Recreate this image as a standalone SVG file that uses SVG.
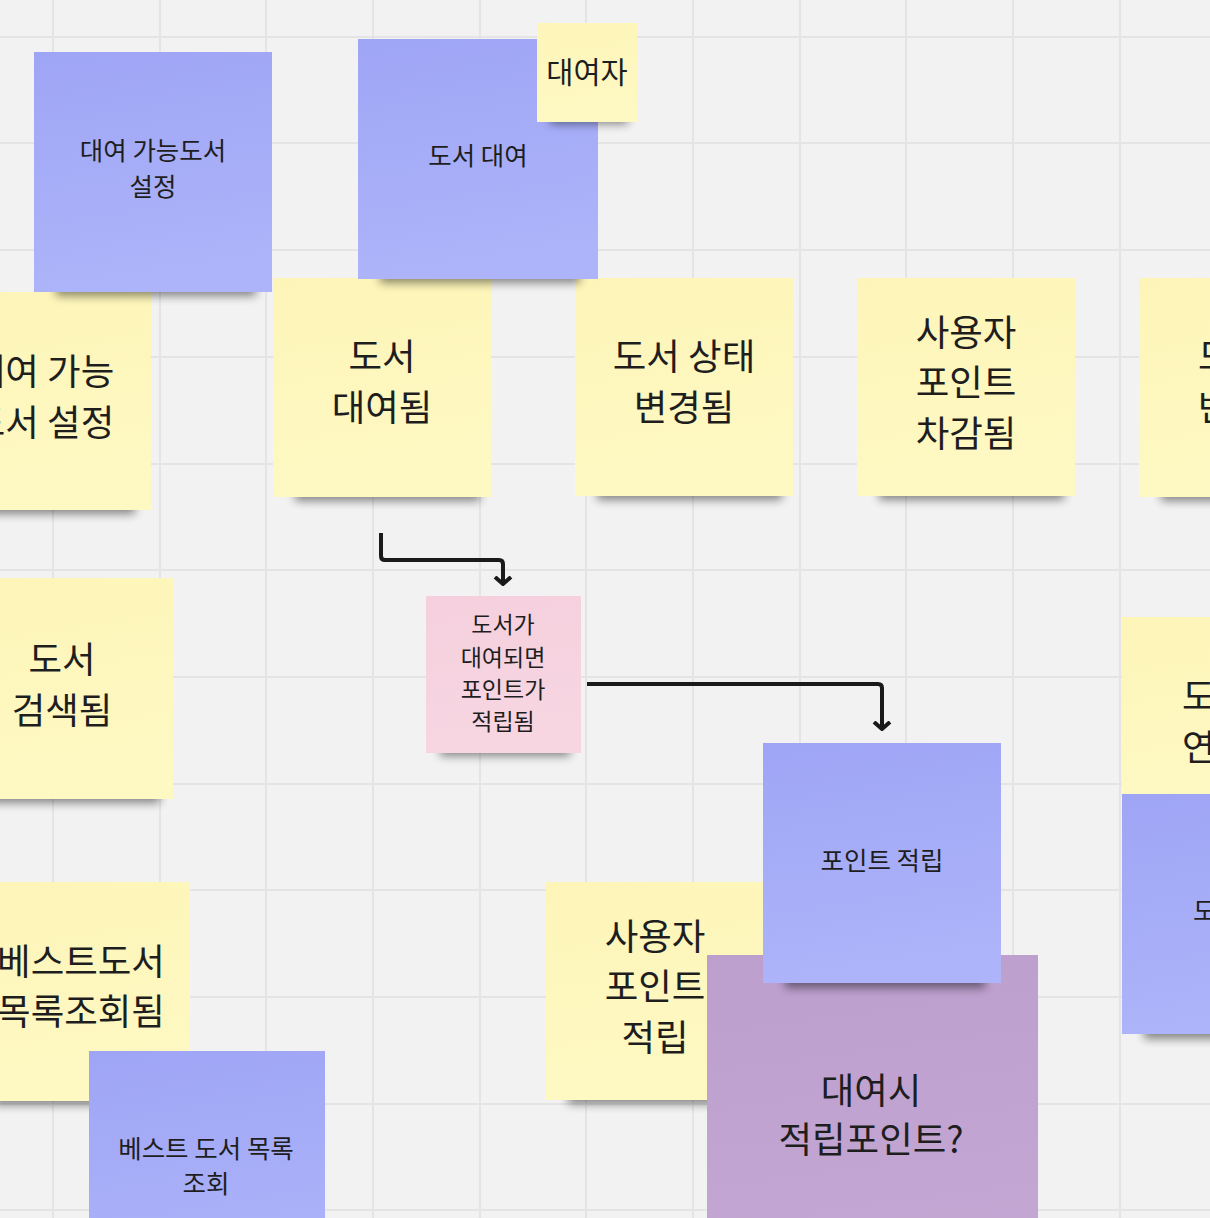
<svg xmlns="http://www.w3.org/2000/svg" width="1210" height="1218" viewBox="0 0 1210 1218">
<style>
.t{font-family:"Noto Sans CJK KR","Noto Sans",sans-serif;fill:#1e1e1e;text-anchor:middle}
.s{font-family:"Noto Sans CJK KR","Noto Sans",sans-serif;fill:#1e1e1e;text-anchor:start}
.big{font-size:36.5px}
.mid{font-size:25.5px}
.sm{font-size:23px}
.grid{stroke:#e4e4e4;stroke-width:2;fill:none}
.sh{fill:#000;opacity:0.45;filter:url(#blur)}
.conn{fill:none;stroke:#1a1a1a;stroke-width:4;stroke-linejoin:round}
</style>
<defs>
<linearGradient id="gb" x1="0" y1="0" x2="0.15" y2="1"><stop offset="0" stop-color="#9fa5f5"/><stop offset="1" stop-color="#adb4f9"/></linearGradient>
<linearGradient id="gy" x1="0" y1="0" x2="0.15" y2="1"><stop offset="0" stop-color="#fdf5b8"/><stop offset="1" stop-color="#fef8c3"/></linearGradient>
<linearGradient id="gp" x1="0" y1="0" x2="0.15" y2="1"><stop offset="0" stop-color="#f5cfdd"/><stop offset="1" stop-color="#f7d6e2"/></linearGradient>
<linearGradient id="gv" x1="0" y1="0" x2="0.15" y2="1"><stop offset="0" stop-color="#bc9fcd"/><stop offset="1" stop-color="#c4a6d3"/></linearGradient>
<filter id="blur" x="-20%" y="-100%" width="140%" height="300%"><feGaussianBlur stdDeviation="5"/></filter>
<marker id="ah" viewBox="0 0 10 20" refX="8" refY="10" markerWidth="2.5" markerHeight="5" orient="auto" markerUnits="strokeWidth">
<path d="M1,2 L8,10 L1,18" fill="none" stroke="#1a1a1a" stroke-width="4" stroke-linejoin="miter"/>
</marker>
</defs>
<rect width="1210" height="1218" fill="#f2f2f2"/>
<path class="grid" d="M53 0V1218M160 0V1218M266 0V1218M373 0V1218M480 0V1218M586 0V1218M693 0V1218M800 0V1218M906 0V1218M1013 0V1218M1120 0V1218M0 37H1210M0 143H1210M0 250H1210M0 357H1210M0 464H1210M0 570H1210M0 677H1210M0 784H1210M0 890H1210M0 997H1210M0 1104H1210M0 1210H1210"/>

<g id="n-yellow-rental-setting">
<rect class="sh" x="-45" y="496" width="180" height="18"/>
<rect x="-65" y="292" width="216" height="218" fill="url(#gy)"/>
<text class="t big" x="43" y="385">대여 가능</text>
<text class="t big" x="43" y="436">도서 설정</text>
</g>
<g id="n-book-rented">
<rect class="sh" x="295" y="483" width="185" height="18"/>
<rect x="273" y="278" width="218" height="219" fill="url(#gy)"/>
<text class="t big" x="382" y="370">도서</text>
<text class="t big" x="382" y="421">대여됨</text>
</g>
<g id="n-book-status-changed">
<rect class="sh" x="597" y="482" width="185" height="18"/>
<rect x="575" y="278" width="218" height="218" fill="url(#gy)"/>
<text class="t big" x="684" y="370">도서 상태</text>
<text class="t big" x="684" y="421">변경됨</text>
</g>
<g id="n-point-deducted">
<rect class="sh" x="879" y="482" width="185" height="18"/>
<rect x="857" y="278" width="218" height="218" fill="url(#gy)"/>
<text class="t big" x="966" y="346">사용자</text>
<text class="t big" x="966" y="396">포인트</text>
<text class="t big" x="966" y="447">차감됨</text>
</g>
<g id="n-right-yellow-top">
<rect class="sh" x="1161" y="483" width="185" height="18"/>
<rect x="1139" y="278" width="218" height="219" fill="url(#gy)"/>
<text class="s big" x="1198" y="370">도서</text>
<text class="s big" x="1198" y="421">반납됨</text>
</g>
<g id="n-cmd-rental-setting">
<rect class="sh" x="56" y="278" width="200" height="18"/>
<rect x="34" y="52" width="238" height="240" fill="url(#gb)"/>
<text class="t mid" x="153" y="160">대여 가능도서</text>
<text class="t mid" x="153" y="196">설정</text>
</g>
<g id="n-cmd-rent">
<rect class="sh" x="380" y="265" width="200" height="18"/>
<rect x="358" y="39" width="240" height="240" fill="url(#gb)"/>
<text class="t mid" x="478" y="165">도서 대여</text>
</g>
<g id="n-actor">
<rect class="sh" x="550" y="110" width="78" height="14"/>
<rect x="537" y="23" width="100" height="99" fill="url(#gy)"/>
<text class="t" style="font-size:29.5px" x="587" y="83">대여자</text>
</g>
<g id="n-policy">
<rect class="sh" x="440" y="740" width="130" height="16"/>
<rect x="426" y="596" width="155" height="157" fill="url(#gp)"/>
<text class="t sm" x="503" y="633">도서가</text>
<text class="t sm" x="503" y="666">대여되면</text>
<text class="t sm" x="503" y="698">포인트가</text>
<text class="t sm" x="503" y="730">적립됨</text>
</g>
<g id="n-book-searched">
<rect class="sh" x="-25" y="785" width="185" height="18"/>
<rect x="-47" y="578" width="220" height="221" fill="url(#gy)"/>
<text class="t big" x="62" y="673">도서</text>
<text class="t big" x="62" y="724">검색됨</text>
</g>
<g id="n-best-viewed">
<rect class="sh" x="-6" y="1087" width="185" height="18"/>
<rect x="-28" y="882" width="218" height="219" fill="url(#gy)"/>
<text class="t big" x="81" y="975">베스트도서</text>
<text class="t big" x="81" y="1025">목록조회됨</text>
</g>
<g id="n-cmd-best">
<rect x="89" y="1051" width="236" height="240" fill="url(#gb)"/>
<text class="t mid" x="206" y="1158">베스트 도서 목록</text>
<text class="t mid" x="206" y="1193">조회</text>
</g>
<g id="n-point-earned">
<rect class="sh" x="568" y="1086" width="185" height="18"/>
<rect x="546" y="882" width="219" height="218" fill="url(#gy)"/>
<text class="t big" x="655" y="950">사용자</text>
<text class="t big" x="655" y="1000">포인트</text>
<text class="t big" x="655" y="1051">적립</text>
</g>
<g id="n-question">
<rect x="707" y="955" width="331" height="300" fill="url(#gv)"/>
<text class="t big" x="871" y="1104">대여시</text>
<text class="t big" x="871" y="1153">적립포인트?</text>
</g>
<g id="n-cmd-earn">
<rect class="sh" x="785" y="970" width="200" height="18"/>
<rect x="763" y="743" width="238" height="240" fill="url(#gb)"/>
<text class="t mid" x="882" y="870">포인트 적립</text>
</g>
<g id="n-right-yellow-mid">
<rect x="1122" y="617" width="218" height="178" fill="url(#gy)"/>
<text class="s big" x="1182" y="710">도서</text>
<text class="s big" x="1182" y="761">연체됨</text>
</g>
<g id="n-right-blue">
<rect class="sh" x="1144" y="1021" width="200" height="18"/>
<rect x="1122" y="794" width="238" height="240" fill="url(#gb)"/>
<text class="s mid" x="1193" y="920">도서 연체</text>
</g>

<g id="connectors">
<path class="conn" d="M381 533V556Q381 560 385 560H499Q503 560 503 564V584" marker-end="url(#ah)"/>
<path class="conn" d="M587 684H878Q882 684 882 688V729" marker-end="url(#ah)"/>
</g>
</svg>
